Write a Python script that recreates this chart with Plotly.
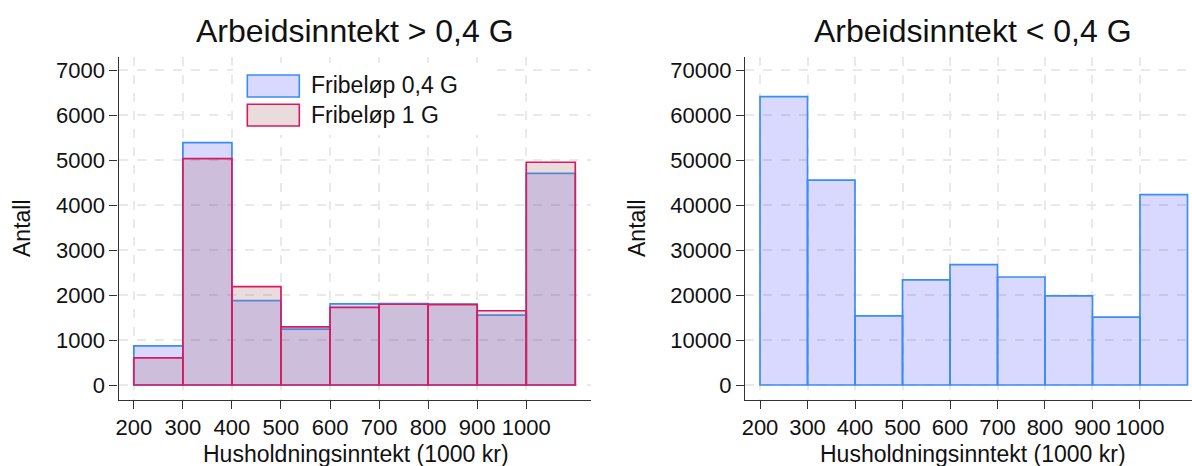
import plotly.graph_objects as go

# Histogram bins (1000 kr)
bin_edges = [200, 300, 400, 500, 600, 700, 800, 900, 1000, 1100]
x_tick_vals = [200, 300, 400, 500, 600, 700, 800, 900, 1000]

# Arbeidsinntekt > 0,4 G
hoy_fribelop_04 = [870, 5385, 1875, 1240, 1805, 1810, 1800, 1555, 4705]
hoy_fribelop_1 = [605, 5030, 2185, 1290, 1725, 1795, 1785, 1650, 4950]

# Arbeidsinntekt < 0,4 G
lav_fribelop_04 = [64100, 45550, 15350, 23350, 26750, 24000, 19800, 15100, 42300]

y_ticks_hoy = [0, 1000, 2000, 3000, 4000, 5000, 6000, 7000]
y_ticks_lav = [0, 10000, 20000, 30000, 40000, 50000, 60000, 70000]

series_names = ["Fribeløp 0,4 G", "Fribeløp 1 G"]
panel_titles = ["Arbeidsinntekt > 0,4 G", "Arbeidsinntekt < 0,4 G"]
x_title = "Husholdningsinntekt (1000 kr)"
y_title = "Antall"

centers = [(a + b) / 2 for a, b in zip(bin_edges[:-1], bin_edges[1:])]
widths = [b - a for a, b in zip(bin_edges[:-1], bin_edges[1:])]

BLUE_FILL = "rgba(0,0,255,0.15)"
BLUE_LINE = "#3a8ef2"
RED_FILL = "rgba(166,107,107,0.24)"
RED_LINE = "#d81b60"
FONT = "Liberation Sans, Arial, sans-serif"

fig = go.Figure()
fig.add_trace(go.Bar(x=centers, y=hoy_fribelop_04, width=widths, name=series_names[0],
                     marker=dict(color=BLUE_FILL, line=dict(color=BLUE_LINE, width=1.7)),
                     xaxis="x", yaxis="y", showlegend=False))
fig.add_trace(go.Bar(x=centers, y=hoy_fribelop_1, width=widths, name=series_names[1],
                     marker=dict(color=RED_FILL, line=dict(color=RED_LINE, width=1.7)),
                     xaxis="x", yaxis="y", showlegend=False))
fig.add_trace(go.Bar(x=centers, y=lav_fribelop_04, width=widths, name=series_names[0],
                     marker=dict(color=BLUE_FILL, line=dict(color=BLUE_LINE, width=1.7)),
                     xaxis="x2", yaxis="y2", showlegend=False))

axis_style = dict(
    showline=True, linecolor="#333333", linewidth=1.3,
    ticks="outside", ticklen=8, tickwidth=1.3, tickcolor="#333333",
    tickfont=dict(family=FONT, size=22, color="#111111"),
    showgrid=True, gridcolor="#e9e9e9", gridwidth=1.5, griddash="dash",
    zeroline=False, automargin=False, fixedrange=True,
)

W, H = 1192, 466
def px(x):
    return x / W
def py(y):
    return (H - y) / H

y_dom = [py(399.5), py(57)]

fig.update_layout(
    width=W, height=H,
    margin=dict(l=0, r=0, t=0, b=0),
    paper_bgcolor="white", plot_bgcolor="white",
    barmode="overlay",
    showlegend=False,
    font=dict(family=FONT, size=22, color="#111111"),
    xaxis=dict(domain=[px(118.5), px(591)], range=[168.8, 1132],
               tickvals=x_tick_vals, anchor="y", **axis_style),
    yaxis=dict(domain=y_dom, range=[-322, 7289], tickvals=y_ticks_hoy,
               tickformat="d", anchor="x", **axis_style),
    xaxis2=dict(domain=[px(745), 1.0], range=[168.4, 1109.5],
                tickvals=x_tick_vals, anchor="y2", **axis_style),
    yaxis2=dict(domain=y_dom, range=[-3222, 72889], tickvals=y_ticks_lav,
                tickformat="d", anchor="x2", **axis_style),
)

annotations = []
# Panel titles
for title, cx in zip(panel_titles, [354.7, 973]):
    annotations.append(dict(text=title, x=px(cx), y=py(31), xref="paper", yref="paper",
                            xanchor="center", yanchor="middle", showarrow=False,
                            font=dict(family=FONT, size=32, color="#111111")))
# Axis titles
for cx in [356, 973]:
    annotations.append(dict(text=x_title, x=px(cx), y=py(454), xref="paper", yref="paper",
                            xanchor="center", yanchor="middle", showarrow=False,
                            font=dict(family=FONT, size=23, color="#111111")))
for cx in [22, 637]:
    annotations.append(dict(text=y_title, x=px(cx), y=py(228), xref="paper", yref="paper",
                            xanchor="center", yanchor="middle", showarrow=False, textangle=-90,
                            font=dict(family=FONT, size=23, color="#111111")))

# Legend inside the left panel
shapes = [dict(type="rect", xref="paper", yref="paper", layer="above",
               x0=px(233), x1=px(495), y0=py(135), y1=py(63),
               fillcolor="white", line=dict(width=0))]
legend_rows = [(series_names[0], BLUE_FILL, BLUE_LINE, 75, 97, 85),
               (series_names[1], RED_FILL, RED_LINE, 104.3, 126, 114.5)]
for name, fill, line, top, bottom, mid in legend_rows:
    shapes.append(dict(type="rect", xref="paper", yref="paper", layer="above",
                       x0=px(247.3), x1=px(299.3), y0=py(bottom), y1=py(top),
                       fillcolor=fill, line=dict(color=line, width=1.6)))
    annotations.append(dict(text=name, x=px(309), y=py(mid), xref="paper", yref="paper",
                            xanchor="left", yanchor="middle", showarrow=False,
                            font=dict(family=FONT, size=23, color="#111111")))

fig.update_layout(annotations=annotations, shapes=shapes)

fig.write_html("out.html")
